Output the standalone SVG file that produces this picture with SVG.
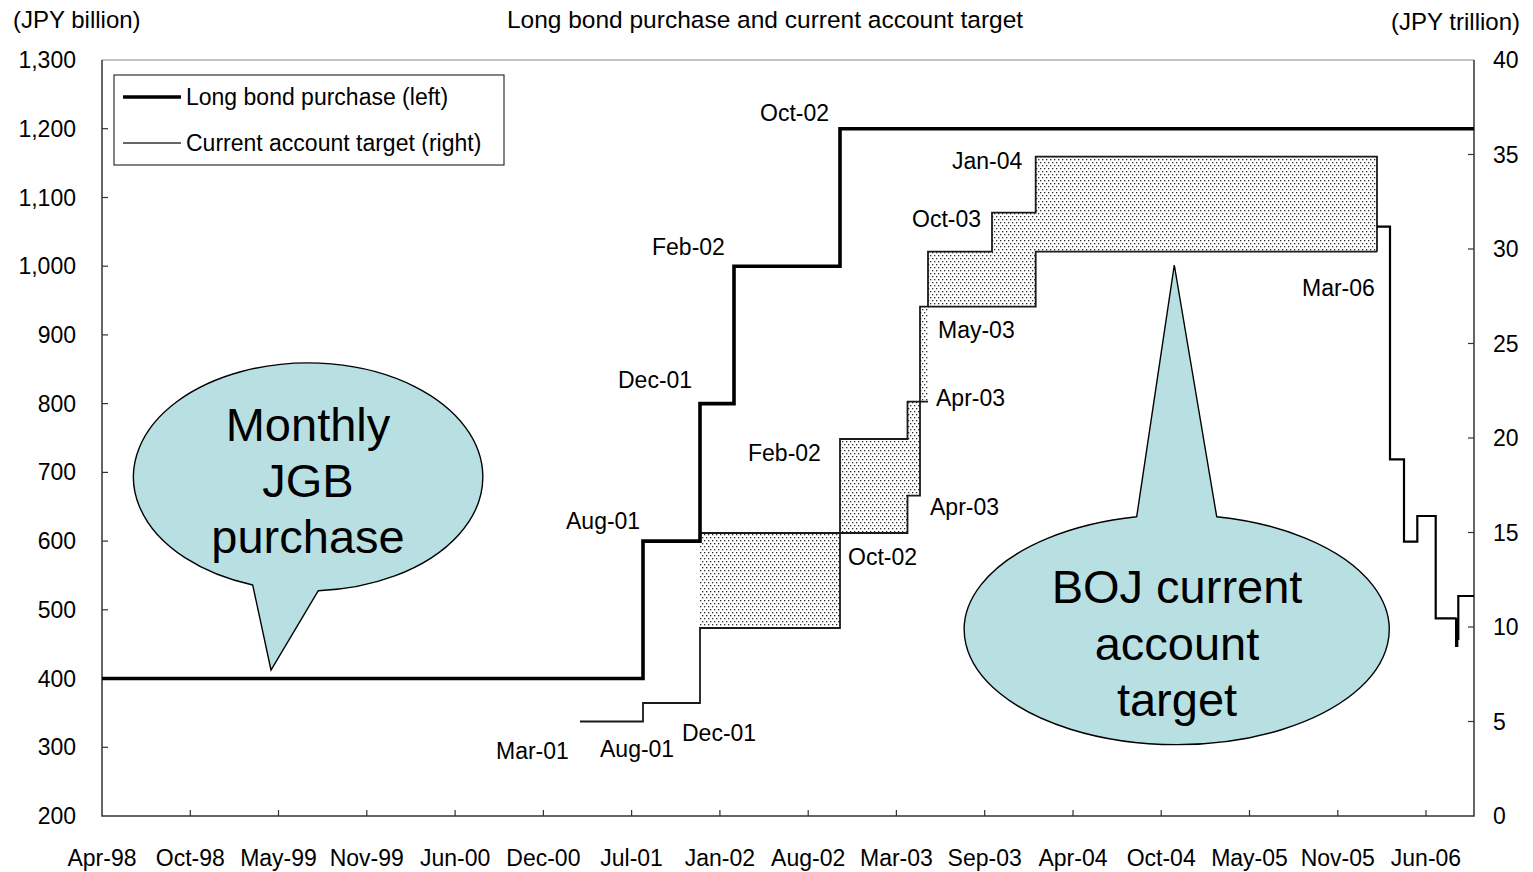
<svg xmlns="http://www.w3.org/2000/svg" width="1533" height="872" viewBox="0 0 1533 872">
  <style>
    text { font-family: "Liberation Sans", Arial, sans-serif; fill: #000; }
    .tick { font-size: 23px; }
    .lab { font-size: 23px; }
    .head { font-size: 24px; }
    .big { font-size: 47px; text-anchor: middle; }
    .axis { stroke: #333; stroke-width: 1.5; fill: none; }
    .tk { stroke: #333; stroke-width: 1.2; }
    .bond { stroke: #000; stroke-width: 3.6; fill: none; }
    .cat { stroke: #1a1a1a; stroke-width: 1.8; fill: none; }
    .cat-end { stroke: #000; stroke-width: 2.2; fill: none; }
    .bubble { fill: #b8e0e3; stroke: #000; stroke-width: 1.4; }
  </style>
  <defs>
    <!-- sparse dot screen for the target band -->
    <pattern id="dots" width="4" height="6" patternUnits="userSpaceOnUse">
      <rect width="4" height="6" fill="#fff"/>
      <rect x="0" y="0" width="1.3" height="1.3" fill="#2a2a2a"/>
      <rect x="2" y="3" width="1.3" height="1.3" fill="#2a2a2a"/>
    </pattern>
  </defs>

  <rect width="1533" height="872" fill="#fff"/>

  <!-- titles and units -->
  <g id="titles">
    <text class="head" x="13" y="28">(JPY billion)</text>
    <text class="head" x="765" y="28" text-anchor="middle" style="font-size:24.5px">Long bond purchase and current account target</text>
    <text class="head" x="1520" y="30" text-anchor="end">(JPY trillion)</text>
  </g>

  <!-- plot frame and axes -->
  <g id="axes">
    <line x1="102" y1="60" x2="1474" y2="60" stroke="#888" stroke-width="1.2"/>
    <path class="axis" d="M102,60 V816 H1474 V60"/>
    <g class="tk">
      <!-- left ticks every 100 -->
      <line x1="102" y1="128.7" x2="108" y2="128.7"/>
      <line x1="102" y1="197.5" x2="108" y2="197.5"/>
      <line x1="102" y1="266.2" x2="108" y2="266.2"/>
      <line x1="102" y1="334.9" x2="108" y2="334.9"/>
      <line x1="102" y1="403.6" x2="108" y2="403.6"/>
      <line x1="102" y1="472.4" x2="108" y2="472.4"/>
      <line x1="102" y1="541.1" x2="108" y2="541.1"/>
      <line x1="102" y1="609.8" x2="108" y2="609.8"/>
      <line x1="102" y1="678.5" x2="108" y2="678.5"/>
      <line x1="102" y1="747.3" x2="108" y2="747.3"/>
      <!-- right ticks every 5 -->
      <line x1="1468" y1="154.5" x2="1474" y2="154.5"/>
      <line x1="1468" y1="249" x2="1474" y2="249"/>
      <line x1="1468" y1="343.5" x2="1474" y2="343.5"/>
      <line x1="1468" y1="438" x2="1474" y2="438"/>
      <line x1="1468" y1="532.5" x2="1474" y2="532.5"/>
      <line x1="1468" y1="627" x2="1474" y2="627"/>
      <line x1="1468" y1="721.5" x2="1474" y2="721.5"/>
      <!-- bottom ticks -->
      <line x1="190.3" y1="816" x2="190.3" y2="810"/>
      <line x1="278.5" y1="816" x2="278.5" y2="810"/>
      <line x1="366.8" y1="816" x2="366.8" y2="810"/>
      <line x1="455.1" y1="816" x2="455.1" y2="810"/>
      <line x1="543.4" y1="816" x2="543.4" y2="810"/>
      <line x1="631.6" y1="816" x2="631.6" y2="810"/>
      <line x1="719.9" y1="816" x2="719.9" y2="810"/>
      <line x1="808.2" y1="816" x2="808.2" y2="810"/>
      <line x1="896.4" y1="816" x2="896.4" y2="810"/>
      <line x1="984.7" y1="816" x2="984.7" y2="810"/>
      <line x1="1073" y1="816" x2="1073" y2="810"/>
      <line x1="1161.2" y1="816" x2="1161.2" y2="810"/>
      <line x1="1249.5" y1="816" x2="1249.5" y2="810"/>
      <line x1="1337.8" y1="816" x2="1337.8" y2="810"/>
      <line x1="1426" y1="816" x2="1426" y2="810"/>
    </g>
    <!-- left axis values -->
    <g class="tick" text-anchor="end">
      <text x="76" y="68">1,300</text>
      <text x="76" y="137">1,200</text>
      <text x="76" y="206">1,100</text>
      <text x="76" y="274">1,000</text>
      <text x="76" y="343">900</text>
      <text x="76" y="412">800</text>
      <text x="76" y="480">700</text>
      <text x="76" y="549">600</text>
      <text x="76" y="618">500</text>
      <text x="76" y="687">400</text>
      <text x="76" y="755">300</text>
      <text x="76" y="824">200</text>
    </g>
    <!-- right axis values -->
    <g class="tick">
      <text x="1493" y="68">40</text>
      <text x="1493" y="163">35</text>
      <text x="1493" y="257">30</text>
      <text x="1493" y="352">25</text>
      <text x="1493" y="446">20</text>
      <text x="1493" y="541">15</text>
      <text x="1493" y="635">10</text>
      <text x="1493" y="730">5</text>
      <text x="1493" y="824">0</text>
    </g>
    <!-- date axis -->
    <g class="tick" text-anchor="middle">
      <text x="102" y="866">Apr-98</text>
      <text x="190.3" y="866">Oct-98</text>
      <text x="278.5" y="866">May-99</text>
      <text x="366.8" y="866">Nov-99</text>
      <text x="455.1" y="866">Jun-00</text>
      <text x="543.4" y="866">Dec-00</text>
      <text x="631.6" y="866">Jul-01</text>
      <text x="719.9" y="866">Jan-02</text>
      <text x="808.2" y="866">Aug-02</text>
      <text x="896.4" y="866">Mar-03</text>
      <text x="984.7" y="866">Sep-03</text>
      <text x="1073" y="866">Apr-04</text>
      <text x="1161.2" y="866">Oct-04</text>
      <text x="1249.5" y="866">May-05</text>
      <text x="1337.8" y="866">Nov-05</text>
      <text x="1426" y="866">Jun-06</text>
    </g>
  </g>

  <!-- current account target band -->
  <g id="target-band">
    <path fill="url(#dots)" d="M700,533 H840 V439 H907.5 V401.7 H920 V306.7 H928 V251.7 H992 V212.7 H1035.7 V156.7 H1377 V251.7 H1035.7 V306.7 H928 V401.7 H920 V495.7 H907.5 V533 H840 V628 H700 Z"/>
    <!-- lower bound -->
    <path class="cat" d="M580,721.5 H643 V703 H700 V628 H840 V533 H907.5 V495.7 H920 V401.7 H928 M928,306.7 H1035.7 V251.7 H1377"/>
    <!-- upper bound -->
    <path class="cat" d="M700,533 H840 V439 H907.5 V401.7 H920 V306.7 H928 V251.7 H992 V212.7 H1035.7 V156.7 H1377 V251.7"/>
    <!-- after March 2006 -->
    <path class="cat-end" d="M1377,226.7 H1390 V459.3 H1404 V541.7 H1417.3 V516 H1435.7 V618.3 H1456.7"/>
    <line x1="1456.7" y1="618.3" x2="1456.7" y2="647" stroke="#000" stroke-width="3.4"/>
    <path class="cat-end" d="M1458.3,640 V596 H1474"/>
  </g>

  <!-- long bond purchase -->
  <g id="long-bond">
    <path class="bond" d="M102,678.5 H643 V541.1 H700 V403.6 H734 V266.2 H840 V128.7 H1474"/>
  </g>

  <!-- point labels -->
  <g id="point-labels" class="lab">
    <text x="760" y="121">Oct-02</text>
    <text x="652" y="255">Feb-02</text>
    <text x="618" y="388">Dec-01</text>
    <text x="566" y="529">Aug-01</text>
    <text x="748" y="461">Feb-02</text>
    <text x="848" y="565">Oct-02</text>
    <text x="930" y="515">Apr-03</text>
    <text x="936" y="406">Apr-03</text>
    <text x="938" y="338">May-03</text>
    <text x="912" y="227">Oct-03</text>
    <text x="952" y="169">Jan-04</text>
    <text x="1302" y="296">Mar-06</text>
    <text x="496" y="759">Mar-01</text>
    <text x="600" y="757">Aug-01</text>
    <text x="682" y="741">Dec-01</text>
  </g>

  <!-- legend -->
  <g id="legend">
    <rect x="114" y="75" width="390" height="90" fill="#fff" stroke="#333" stroke-width="1.2"/>
    <line x1="123" y1="97" x2="181" y2="97" stroke="#000" stroke-width="3.6"/>
    <line x1="123" y1="143" x2="181" y2="143" stroke="#333" stroke-width="1.4"/>
    <text class="lab" x="186" y="105">Long bond purchase (left)</text>
    <text class="lab" x="186" y="151">Current account target (right)</text>
  </g>

  <!-- callout: monthly JGB purchase -->
  <g id="callout-jgb">
    <path class="bubble" d="M252.7,585 A174.7,114 0 1 1 318.3,590.7 L271,670 Z"/>
    <text class="big" x="308" y="441">Monthly</text>
    <text class="big" x="308" y="497">JGB</text>
    <text class="big" x="308" y="553">purchase</text>
  </g>

  <!-- callout: BOJ current account target -->
  <g id="callout-boj">
    <path class="bubble" d="M1216.7,516.7 A212.5,115 0 1 1 1136.7,516.7 L1174.3,265 Z"/>
    <text class="big" x="1177" y="603">BOJ current</text>
    <text class="big" x="1177" y="660">account</text>
    <text class="big" x="1177" y="716">target</text>
  </g>
</svg>
